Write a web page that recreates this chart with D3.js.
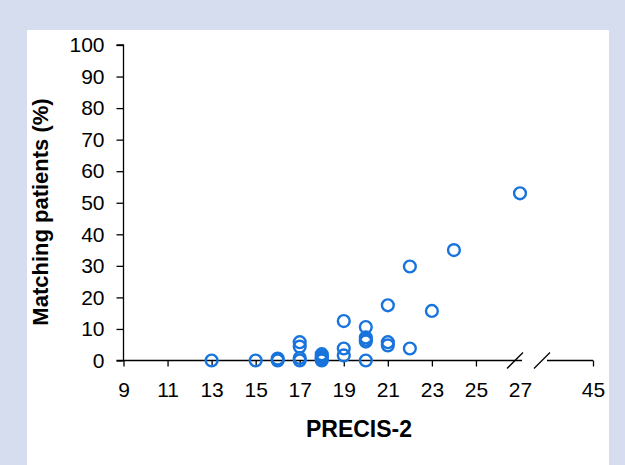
<!DOCTYPE html>
<html>
<head>
<meta charset="utf-8">
<script src="https://cdn.jsdelivr.net/npm/d3@7"></script>
<style>
  html, body { margin: 0; padding: 0; background: #d5ddef; }
  svg { display: block; }
  text { font-family: "Liberation Sans", Arial, Helvetica, sans-serif; }
  .tick text { font-size: 21px; fill: #000; }
</style>
</head>
<body>
<script>
// PRECIS-2 score (x) and matching patients % (y)
const precis = [13, 15, 16, 16, 17, 17, 17, 17, 18, 18, 18, 18, 18, 19, 19, 19, 20, 20, 20, 20, 20, 21, 21, 21, 22, 22, 23, 24, 27];
const matching = [0, 0, 0, 0.6, 0, 0.8, 4.4, 5.8, 0, 0.4, 0.9, 1.4, 2.0, 1.6, 3.8, 12.5, 0, 6.0, 6.6, 7.3, 10.6, 4.8, 5.8, 17.5, 3.8, 29.8, 15.7, 35, 53];
const xTicks = [9, 11, 13, 15, 17, 19, 21, 23, 25, 27, 45];
const yTicks = [0, 10, 20, 30, 40, 50, 60, 70, 80, 90, 100];
const xLabel = "PRECIS-2";
const yLabel = "Matching patients (%)";

const W = 625, H = 465;
const svg = d3.select("body").append("svg").attr("width", W).attr("height", H);

// white panel
svg.append("rect").attr("x", 27).attr("y", 30).attr("width", 582).attr("height", H - 30).attr("fill", "#ffffff");

const x = d3.scaleLinear().domain([9, 27, 45]).range([123.5, 520, 593]);
const y = d3.scaleLinear().domain([0, 100]).range([360.5, 45]);

const blue = "#1874dc";

// Y axis
const gy = svg.append("g").attr("transform", "translate(123.5,0)")
  .call(d3.axisLeft(y).tickValues(yTicks).tickSize(7).tickPadding(12).tickFormat(d3.format("d")));
gy.selectAll("path.domain").attr("stroke", "#000").attr("stroke-width", 1.3).attr("d", `M-7,${y(100)}H0V${y(0)}`);
gy.selectAll(".tick line").attr("stroke", "#000").attr("stroke-width", 1.3);
gy.selectAll(".tick text").style("font-size", "21px").attr("fill", "#000");

// X axis (with break)
const gx = svg.append("g").attr("transform", `translate(0,${y(0)})`)
  .call(d3.axisBottom(x).tickValues(xTicks).tickSize(6).tickPadding(16).tickFormat(d3.format("d")));
gx.select("path.domain").remove();
gx.selectAll(".tick line").attr("stroke", "#000").attr("stroke-width", 1.3)
  .attr("y2", d => d === 27 ? 0 : 6);
gx.selectAll(".tick text").style("font-size", "21px").attr("fill", "#000");

const breakA = x(27) + 2, breakB = x(27) + 27;
gx.append("line").attr("x1", x(9) - 7).attr("x2", breakA).attr("y1", 0).attr("y2", 0)
  .attr("stroke", "#000").attr("stroke-width", 1.3);
gx.append("line").attr("x1", breakB).attr("x2", x(45)).attr("y1", 0).attr("y2", 0)
  .attr("stroke", "#000").attr("stroke-width", 1.3);
[breakA - 7, breakB - 5].forEach(cx => {
  gx.append("line").attr("x1", cx - 8).attr("x2", cx + 8).attr("y1", 8).attr("y2", -8)
    .attr("stroke", "#000").attr("stroke-width", 1.3);
});

// points
svg.append("g").selectAll("circle")
  .data(precis.map((p, i) => ({ p, v: matching[i] })))
  .join("circle")
  .attr("cx", d => x(d.p))
  .attr("cy", d => y(d.v))
  .attr("r", 5.9)
  .attr("fill", "none")
  .attr("stroke", blue)
  .attr("stroke-width", 2.4);

// axis labels
svg.append("text").attr("x", 359).attr("y", 437).attr("text-anchor", "middle")
  .attr("font-size", 23).attr("font-weight", "bold").attr("fill", "#000").text(xLabel);
svg.append("text").attr("transform", "translate(48,212) rotate(-90)").attr("text-anchor", "middle")
  .attr("font-size", 22).attr("font-weight", "bold").attr("fill", "#000").text(yLabel);
</script>
</body>
</html>
